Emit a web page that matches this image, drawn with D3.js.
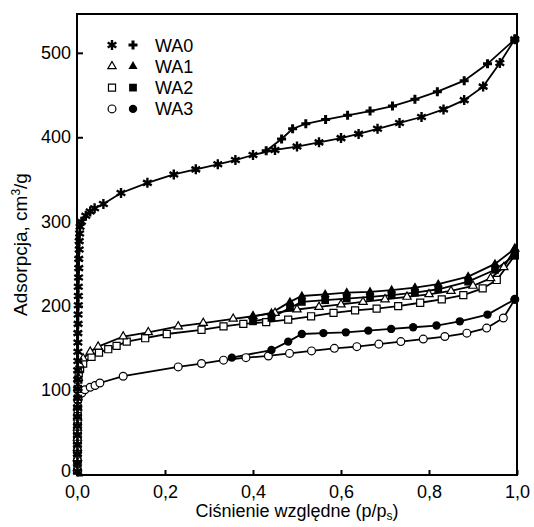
<!DOCTYPE html>
<html>
<head>
<meta charset="utf-8">
<script src="https://cdn.jsdelivr.net/npm/d3@7"></script>
<style>
  body { margin: 0; background: #fff; }
  text { font-family: 'Liberation Sans', Arial, sans-serif; fill: #000; }
</style>
</head>
<body>
<svg id="chart" width="534" height="527"></svg>
<script>
// isotherms, [p/ps, cm3/g]
var WA0_ADS = [[0.001,4],[0.001,14],[0.001,25],[0.001,36],[0.001,47],[0.001,58],[0.001,69],[0.001,80],[0.0015,91],[0.0015,102],[0.0015,113],[0.0015,124],[0.002,135],[0.002,146],[0.002,157],[0.002,168],[0.0025,179],[0.0025,190],[0.003,201],[0.003,212],[0.003,223],[0.0035,234],[0.004,245],[0.004,256],[0.005,267],[0.005,277],[0.006,286],[0.007,294],[0.01,300],[0.02,307],[0.03,312],[0.04,316],[0.06,321],[0.1,334],[0.16,346],[0.22,356],[0.27,362],[0.32,368],[0.36,373],[0.4,379],[0.45,385],[0.5,389],[0.55,394],[0.6,399],[0.64,404],[0.683,410],[0.733,417],[0.783,424],[0.833,433],[0.88,444],[0.923,460],[0.961,488],[0.995,516]]
var WA0_DES = [[0.995,516],[0.933,487],[0.88,467],[0.819,454],[0.768,445],[0.717,437],[0.666,431],[0.615,426],[0.565,421],[0.52,416],[0.49,410],[0.465,398],[0.43,384]]

var WA1_ADS = [[0.001,8],[0.001,20],[0.001,32],[0.001,44],[0.001,56],[0.0015,68],[0.0015,80],[0.002,92],[0.002,104],[0.003,115],[0.004,124],[0.006,131],[0.014,138],[0.03,146],[0.048,152],[0.105,164],[0.162,169],[0.23,176],[0.287,180],[0.355,185],[0.4,188],[0.45,192],[0.5,196],[0.55,199],[0.6,202],[0.65,205],[0.7,208],[0.75,211],[0.8,214],[0.85,218],[0.9,224],[0.94,233],[0.97,246],[0.995,268]]
var WA1_DES = [[0.995,268],[0.95,250],[0.889,235],[0.821,226],[0.768,222],[0.715,219],[0.666,217],[0.613,216],[0.564,214],[0.511,212],[0.484,205],[0.442,192],[0.4,188]]

var WA2_ADS = [[0.001,6],[0.001,18],[0.001,30],[0.001,42],[0.001,54],[0.0015,66],[0.0015,78],[0.002,90],[0.002,102],[0.003,113],[0.004,121],[0.007,126],[0.014,132],[0.033,140],[0.05,145],[0.071,149],[0.09,153],[0.113,158],[0.155,162],[0.204,167],[0.283,172],[0.333,176],[0.378,179],[0.43,181],[0.48,184],[0.532,188],[0.583,192],[0.632,195],[0.681,197],[0.73,200],[0.78,204],[0.829,208],[0.878,213],[0.922,221],[0.954,231],[0.995,260]]
var WA2_DES = [[0.995,260],[0.95,243],[0.889,229],[0.821,220],[0.768,216],[0.715,213],[0.666,211],[0.613,209],[0.564,207],[0.511,205],[0.484,198],[0.442,186],[0.4,182]]

var WA3_ADS = [[0.001,5],[0.001,16],[0.001,27],[0.001,38],[0.001,49],[0.0015,60],[0.0015,71],[0.002,81],[0.002,89],[0.003,93],[0.011,97],[0.018,101],[0.03,104],[0.041,106],[0.052,109],[0.105,117],[0.23,128],[0.283,132],[0.333,136],[0.384,139],[0.435,141],[0.483,144],[0.533,147],[0.585,150],[0.636,152],[0.686,155],[0.736,158],[0.787,161],[0.836,164],[0.886,168],[0.931,174],[0.969,186],[0.995,208]]
var WA3_DES = [[0.995,208],[0.933,190],[0.87,182],[0.817,177],[0.764,175],[0.714,173],[0.662,171],[0.611,169],[0.56,168],[0.511,167],[0.48,158],[0.442,148],[0.352,139]]

var SAMPLES = ['WA0', 'WA1', 'WA2', 'WA3']
var X_TICKS = [0, 0.2, 0.4, 0.6, 0.8, 1.0]
var Y_TICKS = [0, 100, 200, 300, 400, 500]

// marker per sample: [adsorption (open), desorption (filled)]
var MARKERS = {
  WA0: [{ type: d3.symbolAsterisk, size: 70, fill: 'none', sw: 2.4 }, { type: d3.symbolCross, size: 45, fill: '#000', sw: 0 }],
  WA1: [{ type: d3.symbolTriangle, size: 30, fill: '#fff', sw: 1.2 }, { type: d3.symbolTriangle, size: 36, fill: '#000', sw: 0 }],
  WA2: [{ type: d3.symbolSquare, size: 50, fill: '#fff', sw: 1.2 }, { type: d3.symbolSquare, size: 60, fill: '#000', sw: 0 }],
  WA3: [{ type: d3.symbolCircle, size: 48, fill: '#fff', sw: 1.2 }, { type: d3.symbolCircle, size: 55, fill: '#000', sw: 0 }]
}

var series = [
  { name: 'WA3', ads: WA3_ADS, des: WA3_DES },
  { name: 'WA2', ads: WA2_ADS, des: WA2_DES },
  { name: 'WA1', ads: WA1_ADS, des: WA1_DES },
  { name: 'WA0', ads: WA0_ADS, des: WA0_DES }
]

var svg = d3.select('#chart')
var plot = { left: 77, right: 517, top: 14, bottom: 475 }

var xScale = d3.scaleLinear().domain([0, 1]).range([plot.left, plot.right])
var yScale = d3.scaleLinear().domain([0, 546]).range([plot.bottom, plot.top])

var comma = function (d) { return d3.format('.1f')(d).replace('.', ',') }

svg.append('g')
  .attr('transform', 'translate(0,' + plot.bottom + ')')
  .call(d3.axisBottom(xScale).tickValues(X_TICKS).tickFormat(comma).tickSizeInner(-5).tickSizeOuter(0).tickPadding(10))
  .call(function (g) {
    g.select('.domain').remove()
    g.selectAll('line').attr('stroke-width', 2)
    g.selectAll('text').attr('font-size', 18)
  })

svg.append('g')
  .attr('transform', 'translate(' + plot.left + ',0)')
  .call(d3.axisLeft(yScale).tickValues(Y_TICKS).tickSizeInner(-6).tickSizeOuter(0).tickPadding(6))
  .call(function (g) {
    g.select('.domain').remove()
    g.selectAll('line').attr('stroke-width', 2)
    g.selectAll('text').attr('font-size', 18).attr('dy', '0.3em')
    // the zero sits a little higher so it clears the 0,0 below it
    g.selectAll('.tick').filter(function (d) { return d === 0 }).select('text').attr('dy', '0.08em')
  })

svg.append('rect')
  .attr('x', plot.left).attr('y', plot.top)
  .attr('width', plot.right - plot.left).attr('height', plot.bottom - plot.top)
  .attr('fill', 'none').attr('stroke', '#000').attr('stroke-width', 2)

var line = d3.line().x(function (d) { return xScale(d[0]) }).y(function (d) { return yScale(d[1]) })

function drawMarks (g, pts, m) {
  g.selectAll(null).data(pts).enter().append('path')
    .attr('d', d3.symbol().type(m.type).size(m.size))
    .attr('transform', function (d) { return 'translate(' + xScale(d[0]) + ',' + yScale(d[1]) + ')' })
    .attr('fill', m.fill)
    .attr('stroke', '#000')
    .attr('stroke-width', m.sw)
}

series.forEach(function (s) {
  var g = svg.append('g').attr('class', 'series')
  g.append('path').datum(s.ads).attr('d', line).attr('fill', 'none').attr('stroke', '#000').attr('stroke-width', 1.8)
  g.append('path').datum(s.des).attr('d', line).attr('fill', 'none').attr('stroke', '#000').attr('stroke-width', 1.8)
  drawMarks(g, s.ads, MARKERS[s.name][0])
  drawMarks(g, s.des, MARKERS[s.name][1])
})

// legend
var legend = svg.append('g')
SAMPLES.forEach(function (name, i) {
  var y = 45 + i * 21.3
  drawMarks(legend, [[xScale.invert(112), yScale.invert(y)]], MARKERS[name][0])
  drawMarks(legend, [[xScale.invert(133), yScale.invert(y)]], MARKERS[name][1])
  legend.append('text').attr('x', 155).attr('y', y + 6.5).attr('font-size', 18).text(name)
})

// axis titles
svg.append('text')
  .attr('x', (plot.left + plot.right) / 2).attr('y', 517)
  .attr('text-anchor', 'middle').attr('font-size', 18)
  .html('Ciśnienie względne (p/p<tspan font-size="12" dy="3">s</tspan><tspan dy="-3">)</tspan>')

svg.append('text')
  .attr('transform', 'translate(27,' + ((plot.top + plot.bottom) / 2) + ') rotate(-90)')
  .attr('text-anchor', 'middle').attr('font-size', 19)
  .html('Adsorpcja, cm<tspan font-size="12" dy="-7">3</tspan><tspan dy="7">/g</tspan>')
</script>
</body>
</html>
